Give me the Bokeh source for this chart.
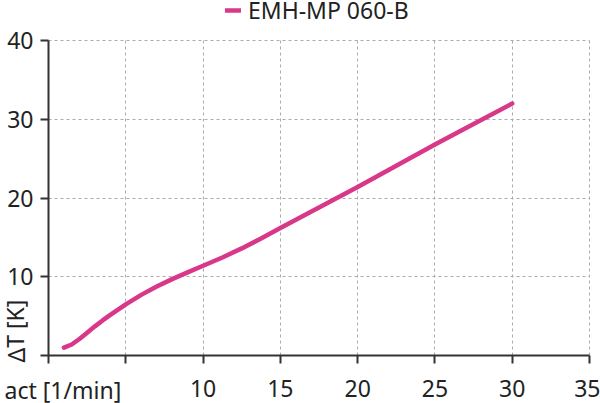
from bokeh.plotting import figure
from bokeh.models import (Legend, LegendItem, Label, FixedTicker, LinearAxis,
                          Grid, Range1d)
from bokeh.embed import file_html
from bokeh.resources import INLINE

# ---- data ----
speed = [1, 1.5, 2, 2.5, 3, 3.5, 4, 5, 6, 7, 8, 9, 10, 11.25, 12.5, 13.75, 15, 17.5, 20,
         22.5, 25, 27.5, 30]
delta_t = [1.0, 1.4, 2.1, 2.9, 3.7, 4.45, 5.15, 6.5, 7.7, 8.75, 9.7, 10.55, 11.4, 12.45, 13.6,
           14.85, 16.2, 18.8, 21.4, 24.1, 26.8, 29.4, 32.0]
series_name = "EMH-MP 060-B"
x_ticks = [0, 5, 10, 15, 20, 25, 30, 35]
y_ticks = [0, 10, 20, 30, 40]
x_label = "act [1/min]"
y_label = "ΔT [K]"

# ---- layout / style ----
FONT = "Noto Sans"
FS = "23px"
PINK = "#d9388a"
AX = "#333333"
TXT = "#222222"
W, H = 600, 403
BOX_L, BOX_R, BOX_T, BOX_B = 48, 589, 40, 355   # pixel box of the data area

x0, x1 = x_ticks[0], x_ticks[-1]
y0, y1 = y_ticks[0], y_ticks[-1]
ppx = (BOX_R - BOX_L) / (x1 - x0)
ppy = (BOX_B - BOX_T) / (y1 - y0)
xr = Range1d(x0 - BOX_L / ppx, x1 + (W - BOX_R) / ppx)
yr = Range1d(y0 - (H - BOX_B) / ppy, y1 + BOX_T / ppy)

p = figure(width=W, height=H, output_backend="svg", toolbar_location=None,
           x_range=xr, y_range=yr, x_axis_location=None, y_axis_location=None,
           min_border=0, min_border_left=0, min_border_right=0,
           min_border_top=0, min_border_bottom=0)
p.center = [c for c in p.center if not isinstance(c, Grid)]
p.outline_line_color = None
p.background_fill_color = "white"
p.border_fill_color = "white"

for dim, ticks, b, cb in ((0, x_ticks, (x0, x1), (y0, y1)), (1, y_ticks, (y0, y1), (x0, x1))):
    g = Grid(dimension=dim, ticker=FixedTicker(ticks=ticks), bounds=b, cross_bounds=cb,
             grid_line_color="#aaaaaa", grid_line_dash="3 3", grid_line_width=1)
    p.add_layout(g)

r = p.line(speed, delta_t, line_color=PINK, line_width=4.5, line_cap="round", line_join="round")

xaxis = LinearAxis(fixed_location=y0, bounds=(x0, x1), ticker=FixedTicker(ticks=x_ticks))
yaxis = LinearAxis(fixed_location=x0, bounds=(y0, y1), ticker=FixedTicker(ticks=y_ticks))
for ax in (xaxis, yaxis):
    ax.axis_line_color = AX
    ax.axis_line_width = 2
    ax.major_tick_line_color = AX
    ax.major_tick_line_width = 2
    ax.major_tick_out = 8
    ax.major_tick_in = 0
    ax.minor_tick_line_color = None
    ax.major_label_text_font = FONT
    ax.major_label_text_font_size = FS
    ax.major_label_text_color = TXT
xaxis.major_label_overrides = {0: "", 5: ""}
yaxis.major_label_overrides = {0: ""}
xaxis.major_label_standoff = 16
yaxis.major_label_standoff = 7
p.add_layout(xaxis, "below")
p.add_layout(yaxis, "left")

p.add_layout(Label(x=x0, y=y0, text=x_label, x_offset=-44, y_offset=-34,
                   text_font=FONT, text_font_size=FS, text_color=TXT,
                   text_baseline="middle", text_align="left"))
p.add_layout(Label(x=x0, y=y0, text=y_label, x_offset=-33, y_offset=-7, angle=1.5708,
                   text_font=FONT, text_font_size=FS, text_color=TXT,
                   text_baseline="middle", text_align="left"))

legend = Legend(items=[LegendItem(label=series_name, renderers=[r])],
                location=(225, H - 26), orientation="horizontal",
                label_text_font=FONT, label_text_font_size=FS, label_text_color=TXT,
                glyph_width=16, glyph_height=24, label_height=24, label_standoff=7,
                border_line_color=None, background_fill_alpha=0, padding=0, margin=0)
p.add_layout(legend, "center")

open("out.html", "w").write(file_html(p, INLINE))
